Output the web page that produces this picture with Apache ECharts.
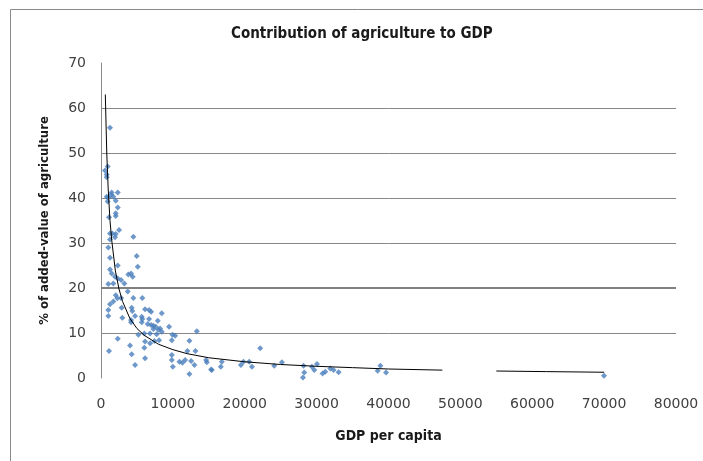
<!DOCTYPE html>
<html>
<head>
<meta charset="utf-8">
<script src="https://cdn.jsdelivr.net/npm/echarts@6/dist/echarts.min.js"></script>
<style>html,body{margin:0;padding:0;background:#fff;}#chart{width:703px;height:461px;}</style>
</head>
<body>
<div id="chart"></div>
<script>
// GDP per capita (x) and % of added-value of agriculture (y)
const gdpPerCapita = [1250,930,560,790,790,790,1490,1710,2330,930,1390,1020,2050,2330,2050,2050,1110,2510,1250,1580,2050,1950,1250,4500,1020,1250,2330,4970,5110,1250,1490,1950,2330,2790,3250,1020,1710,3800,4180,4410,2050,2790,2270,3720,4500,5750,1250,1710,1020,1020,2880,2970,4270,4360,6130,6690,6970,8450,4180,4740,5670,5750,6690,7900,4180,5670,6500,6970,7290,7620,8220,7290,7980,8450,9470,5200,6030,6830,7750,9940,2330,6130,6830,7430,4040,4270,6030,6130,1110,4740,9850,13330,10310,9850,12300,12020,13140,9850,10910,11330,11700,12540,13000,9990,12300,14630,14720,15320,16810,16670,19460,19820,20620,21000,22150,24100,25170,28180,28280,28100,29350,29670,30050,30830,31200,31900,32360,33060,38490,38870,39660,69980,15420,8080];
const agriShare = [55.6,47,46.1,45.2,44.6,40.3,41.2,40.3,41.2,39.2,40.7,40.1,39.4,37.9,36.6,36.0,35.7,32.9,32.1,32.1,32.0,31.3,30.8,31.4,29.0,26.7,25.0,27.1,24.7,24.1,23.2,22.5,22.1,21.8,21.0,20.9,21.0,23.0,23.2,22.5,18.4,17.8,17.7,19.2,17.8,17.8,16.4,17.0,15.1,13.8,15.6,13.4,15.6,14.9,15.3,15.1,14.7,14.4,12.9,13.8,13.6,13.1,13.1,12.7,12.4,12.4,12.0,11.8,11.6,11.4,11.0,10.9,10.7,10.3,11.4,9.6,9.9,9.9,9.7,9.6,8.7,8.1,7.7,8.2,7.2,5.3,6.7,4.4,6.0,2.9,4.0,10.4,9.4,8.4,8.3,6.0,6.0,5.1,3.6,3.4,4.0,3.8,2.9,2.5,0.9,4.0,3.5,1.9,3.6,2.5,2.9,3.6,3.6,2.5,6.6,2.7,3.5,2.7,1.2,0.1,2.5,1.8,3.1,1.0,1.4,2.1,1.8,1.3,1.6,2.7,1.2,0.5,1.8,8.4];
// Trendline as drawn in the picture (null = gap in the drawn line)
const trendX = [600,800,1000,1250,1500,2000,2500,3000,4000,5000,6000,8000,10000,12000,15000,20000,25000,30000,35000,40000,47500,51000,55000,62000,70000];
const trendY = [63,50,42,35,30.5,23.8,19.8,17,13.3,11,9.5,7.5,6.3,5.4,4.5,3.6,3.0,2.6,2.3,2.0,1.75,null,1.55,1.42,1.28];
const xTicks = [0,10000,20000,30000,40000,50000,60000,70000,80000];
const yTicks = [0,10,20,30,40,50,60,70];

const points = gdpPerCapita.map((x, i) => [x, agriShare[i]]);
const trend = trendX.map((x, i) => [x, trendY[i] === null ? '-' : trendY[i]]);

const chart = echarts.init(document.getElementById('chart'));
const tickFont = {fontFamily: 'DejaVu Sans', fontSize: 14, color: '#404040'};
chart.setOption({
  animation: false,
  title: {
    text: 'Contribution of agriculture to GDP',
    left: 226, top: 22,
    textStyle: {fontFamily: 'DejaVu Sans Condensed', fontSize: 15, fontWeight: 'bold', color: '#1a1a1a'}
  },
  graphic: [{
    type: 'rect', shape: {x: 10.5, y: 9.5, width: 720, height: 480},
    style: {fill: 'none', stroke: '#8a8a8a', lineWidth: 1}, silent: true
  }],
  grid: {left: 101, right: 27, top: 63, bottom: 83},
  xAxis: {
    type: 'value', min: xTicks[0], max: xTicks[xTicks.length - 1], interval: 10000,
    name: 'GDP per capita', nameLocation: 'middle', nameGap: 51,
    nameTextStyle: {fontFamily: 'DejaVu Sans Condensed', fontSize: 14, fontWeight: 'bold', color: '#1a1a1a'},
    axisLine: {show: false}, axisTick: {show: false}, splitLine: {show: false},
    axisLabel: Object.assign({margin: 19, formatter: v => String(v)}, tickFont)
  },
  yAxis: {
    type: 'value', min: yTicks[0], max: yTicks[yTicks.length - 1], interval: 10,
    name: '% of added-value of agriculture', nameLocation: 'middle', nameGap: 50, nameRotate: 90,
    nameTextStyle: {fontFamily: 'DejaVu Sans Condensed', fontSize: 13, fontWeight: 'bold', color: '#1a1a1a'},
    axisLine: {show: true, lineStyle: {color: '#8a8a8a', width: 1}}, axisTick: {show: false},
    splitLine: {show: true, lineStyle: {color: ['transparent','#878787','#878787','#878787','#878787','#878787','#878787','transparent'], width: 1}},
    axisLabel: Object.assign({margin: 15, formatter: v => String(v)}, tickFont)
  },
  series: [
    {
      type: 'line', data: [[xTicks[0], 20], [xTicks[xTicks.length - 1], 20]],
      showSymbol: false, silent: true, lineStyle: {color: '#808080', width: 2}, z: 1
    },
    {
      type: 'scatter', data: points, symbol: 'diamond', symbolSize: 6,
      itemStyle: {color: '#4a7ebb'}, z: 3
    },
    {
      type: 'line', data: trend, showSymbol: false, connectNulls: false,
      lineStyle: {color: '#000', width: 1}, z: 4
    }
  ]
});
</script>
</body>
</html>
